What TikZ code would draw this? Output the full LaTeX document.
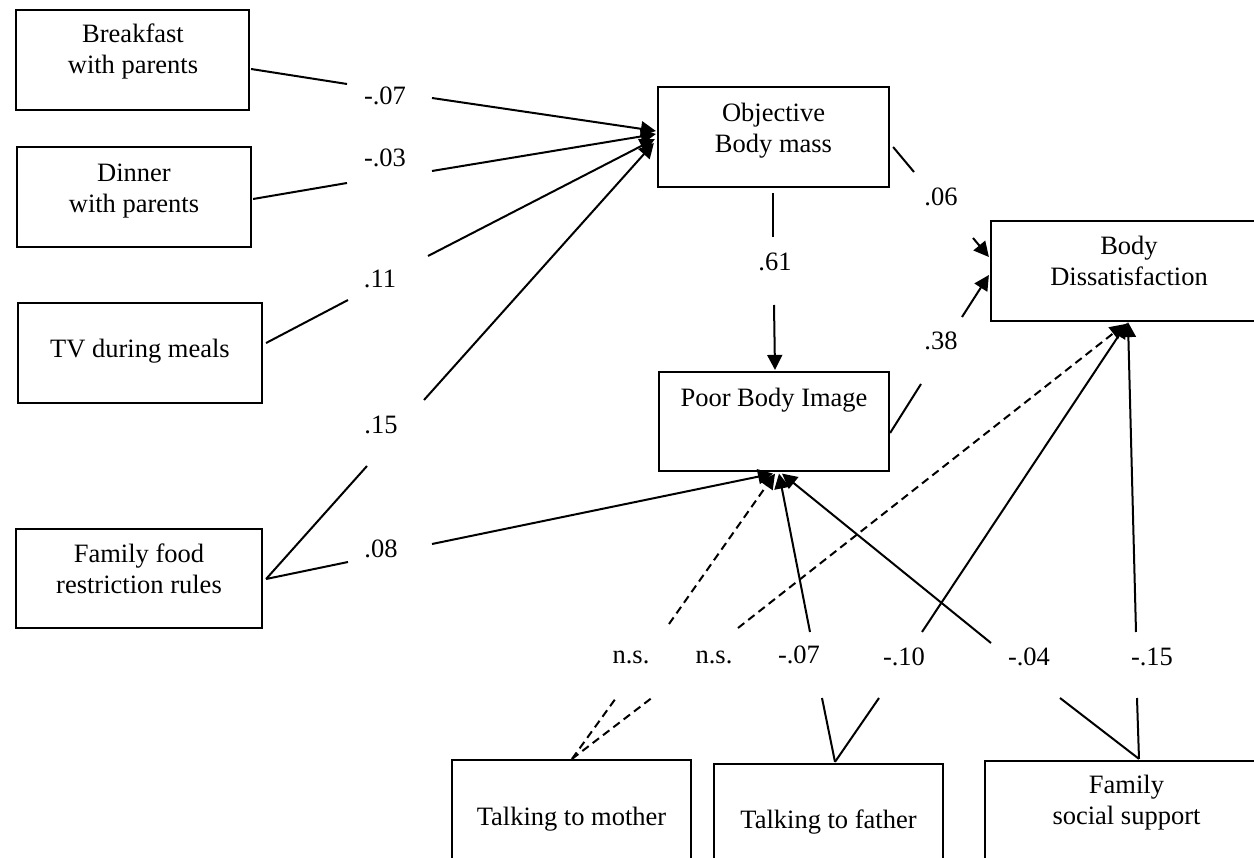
\documentclass[tikz,border=0pt]{standalone}
\usepackage{fontspec}
\setmainfont{Liberation Serif}
\usetikzlibrary{arrows.meta,calc}
% centred multi-line text whose base is the first line's baseline
\newcommand\twolines[1]{\begin{tabular}[t]{@{}c@{}}#1\end{tabular}}
\begin{document}
\begin{tikzpicture}[x=1pt,y=-1pt,
  every node/.style={font=\fontsize{26.5}{31}\selectfont},
  box/.style={draw, line width=2.2pt, inner sep=0pt},
  txt/.style={anchor=base, inner sep=0pt},
  coef/.style={anchor=base, inner sep=0pt},
  conn/.style={line width=2pt},
  arr/.style={conn, -{Triangle[length=15pt,width=15pt]}},
  ns/.style={dash pattern=on 8pt off 5pt}]

\useasboundingbox (0,0) rectangle (1254,858);
\fill[white] (0,0) rectangle (1254,858);
\clip (0,0) rectangle (1254,858);

% ---- variable boxes ----
\node[box, minimum width=233pt, minimum height=100pt] (brk) at (132.5,60) {};
\node[txt] (brk-t) at (133,43) {\twolines{Breakfast\\with parents}};
\node[box, minimum width=234pt, minimum height=100pt] (din) at (134,197) {};
\node[txt] (din-t) at (134,182) {\twolines{Dinner\\with parents}};
\node[box, minimum width=244pt, minimum height=100pt] (tv) at (140,353) {};
\node[txt] (tv-t) at (140,358) {TV during meals};
\node[box, minimum width=246pt, minimum height=99pt] (ffr) at (139,578.5) {};
\node[txt] (ffr-t) at (139,562) {\twolines{Family food\\restriction rules}};

\node[box, minimum width=231pt, minimum height=100pt] (obm) at (773.5,137) {};
\node[txt] (obm-t) at (773.5,122) {\twolines{Objective\\Body mass}};
\node[box, minimum width=230pt, minimum height=99pt] (pbi) at (774,421.5) {};
\node[txt] (pbi-t) at (774,407) {Poor Body Image};
\node[box, minimum width=276pt, minimum height=100pt] (bd) at (1129,271) {};
\node[txt] (bd-t) at (1129,255) {\twolines{Body\\Dissatisfaction}};

\node[box, minimum width=239pt, minimum height=100pt] (mom) at (571.5,810) {};
\node[txt] (mom-t) at (571.5,825) {Talking to mother};
\node[box, minimum width=229pt, minimum height=100pt] (dad) at (828.5,814) {};
\node[txt] (dad-t) at (828.5,828) {Talking to father};
\node[box, minimum width=283pt, minimum height=100pt] (fss) at (1126.5,811) {};
\node[txt] (fss-t) at (1126.5,793) {\twolines{Family\\social support}};

% ---- path coefficients ----
\node[coef] (c-brk) at (385,105) {-.07};
\node[coef] (c-din) at (385,167) {-.03};
\node[coef] (c-tv)  at (380,288) {.11};
\node[coef] (c-ffo) at (381,434) {.15};
\node[coef] (c-ffp) at (381,558) {.08};
\node[coef] (c-op)  at (775,271) {.61};
\node[coef] (c-ob)  at (941,206) {.06};
\node[coef] (c-pb)  at (941,350) {.38};
\node[coef] (c-mp)  at (631,663) {n.s.};
\node[coef] (c-mb)  at (714,663) {n.s.};
\node[coef] (c-dp)  at (799,663) {-.07};
\node[coef] (c-db)  at (904,665) {-.10};
\node[coef] (c-sp)  at (1029,665) {-.04};
\node[coef] (c-sb)  at (1152,665) {-.15};

% ---- break points around the coefficients ----
\coordinate (brk-a) at (347,84);   \coordinate (brk-b) at (432,98);
\coordinate (din-a) at (347,183);  \coordinate (din-b) at (432,171);
\coordinate (tv-a)  at (348,300);  \coordinate (tv-b)  at (428,256);
\coordinate (ffo-a) at (367,466);  \coordinate (ffo-b) at (424,400);
\coordinate (ffp-a) at (348,562);  \coordinate (ffp-b) at (432,544);
\coordinate (op-a)  at (773,237);  \coordinate (op-b)  at (774,305);
\coordinate (ob-a)  at (914,172);  \coordinate (ob-b)  at (973,238);
\coordinate (pb-a)  at (921,384);  \coordinate (pb-b)  at (962,317);
\coordinate (mp-a)  at (616,698);  \coordinate (mp-b)  at (669,624);
\coordinate (mb-a)  at (653,697);  \coordinate (mb-b)  at (738,628);
\coordinate (dp-a)  at (822,698);  \coordinate (dp-b)  at (810,632);
\coordinate (db-a)  at (879,698);  \coordinate (db-b)  at (922,632);
\coordinate (sp-a)  at (1060,698); \coordinate (sp-b)  at (991,643);
\coordinate (sb-a)  at (1137,698); \coordinate (sb-b)  at (1136,632);

% ---- family meal variables to body mass / body image ----
\draw[conn] ($(brk.east)+(1,9)$) -- (brk-a);
\draw[arr]  (brk-b) -- ($(obm.west)+(-1,-6)$);
\draw[conn] ($(din.east)+(1,2)$) -- (din-a);
\draw[arr]  (din-b) -- ($(obm.west)+(-1,-3)$);
\draw[conn] ($(tv.east)+(3,-10)$) -- (tv-a);
\draw[arr]  (tv-b) -- ($(obm.west)+(-2,2)$);
\draw[conn] ($(ffr.east)+(3,0.5)$) -- (ffo-a);
\draw[arr]  (ffo-b) -- ($(obm.west)+(-3,6)$);
\draw[conn] ($(ffr.east)+(3,0.5)$) -- (ffp-a);
\draw[arr]  (ffp-b) -- ($(pbi.south)+(-1,1.5)$);

% ---- mediators ----
\draw[conn] ($(obm.south)+(-0.5,5)$) -- (op-a);
\draw[arr]  (op-b) -- ($(pbi.north)+(1,-1)$);
\draw[conn] ($(obm.east)+(3,10)$) -- (ob-a);
\draw[arr]  (ob-b) -- ($(bd.west)+(-1,-14)$);
\draw[conn] ($(pbi.east)+(0,11.5)$) -- (pb-a);
\draw[arr]  (pb-b) -- ($(bd.west)+(-1,4)$);

% ---- communication and support variables ----
\draw[conn, ns] ($(mom.north)+(0.5,0)$) -- (mp-a);
\draw[arr, ns]  (mp-b) -- ($(pbi.south)+(1,1.5)$);
\draw[conn, ns] ($(mom.north)+(0.5,0)$) -- (mb-a);
\draw[arr, ns]  (mb-b) -- ($(bd.south)+(-4,2)$);
\draw[conn] ($(dad.north)+(6.5,-1)$) -- (dp-a);
\draw[arr]  (dp-b) -- ($(pbi.south)+(5,1.5)$);
\draw[conn] ($(dad.north)+(6.5,-1)$) -- (db-a);
\draw[arr]  (db-b) -- ($(bd.south)+(-2,1)$);
\draw[conn] ($(fss.north)+(12.5,-1)$) -- (sp-a);
\draw[arr]  (sp-b) -- ($(pbi.south)+(8,1.5)$);
\draw[conn] ($(fss.north)+(12.5,-1)$) -- (sb-a);
\draw[arr]  (sb-b) -- ($(bd.south)+(-1,0)$);
\end{tikzpicture}
\end{document}
